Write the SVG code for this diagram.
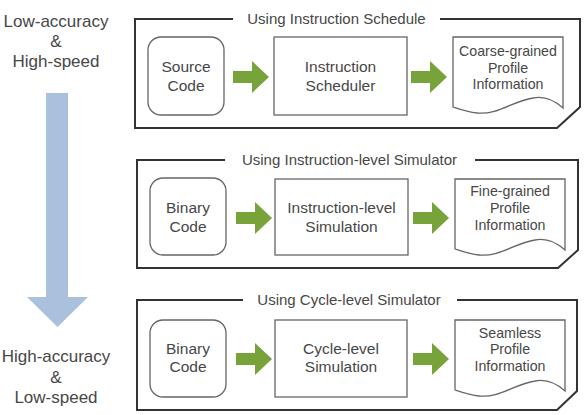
<svg xmlns="http://www.w3.org/2000/svg" width="587" height="415" viewBox="0 0 587 415">
<style>
text{font-family:"Liberation Sans",Arial,sans-serif;fill:#474747;text-anchor:middle}
.lbl{font-size:17px}
.ttl{font-size:15px}
.nt{font-size:15.5px}
.dt{font-size:14.2px}
.frame{fill:none;stroke:#333;stroke-width:2}
.node{fill:#fff;stroke:#666;stroke-width:1.3}
.garrow{fill:#77a33a}
</style>
<defs>
<path id="doc" d="M0,0 H110 V71 C100,62 90,59 80,61 C60,64 45,78 24,76 C14,75 6,72 0,70 Z"/>
<path id="ga" d="M0,10 H19 V0 L36,16 L19,32 V22 H0 Z"/>
</defs>
<rect width="587" height="415" fill="#fff"/>
<g id="speed-axis">
<text class="lbl" x="56" y="27">Low-accuracy</text>
<text class="lbl" x="56" y="47">&amp;</text>
<text class="lbl" x="56" y="67">High-speed</text>
<path d="M46,93 H68 V297 H88 L57.5,327 L27,297 H46 Z" fill="#a9c1dc"/>
<text class="lbl" x="56" y="362">High-accuracy</text>
<text class="lbl" x="56" y="383">&amp;</text>
<text class="lbl" x="56" y="403">Low-speed</text>
</g>
<g id="panel1">
<path class="frame" d="M440,19 H580 V107 L557,128 H135 V19 H233"/>
<text class="ttl" x="336.5" y="24">Using Instruction Schedule</text>
</g>
<g id="panel2">
<path class="frame" d="M475,160 H578 V250 L558,268 H137 V160 H225"/>
<text class="ttl" x="349.5" y="165">Using Instruction-level Simulator</text>
</g>
<g id="panel3">
<path class="frame" d="M457,300 H577 V391 L557,410 H137 V300 H243"/>
<text class="ttl" x="349" y="305">Using Cycle-level Simulator</text>
</g>
<g id="source-code">
<rect class="node" x="148" y="37" width="76" height="78" rx="13"/>
<text class="nt" x="186" y="72">Source</text>
<text class="nt" x="186" y="91">Code</text>
</g>
<g id="instruction-scheduler">
<rect class="node" x="274" y="37" width="133" height="78"/>
<text class="nt" x="340.5" y="72">Instruction</text>
<text class="nt" x="340.5" y="91">Scheduler</text>
</g>
<g id="coarse-profile">
<use href="#doc" x="453" y="37" class="node"/>
<text class="dt" x="508" y="56">Coarse-grained</text>
<text class="dt" x="508" y="72.5">Profile</text>
<text class="dt" x="508" y="89">Information</text>
</g>
<g id="binary-code-1">
<rect class="node" x="150" y="178" width="76" height="77" rx="13"/>
<text class="nt" x="188" y="213">Binary</text>
<text class="nt" x="188" y="232">Code</text>
</g>
<g id="instruction-level-sim">
<rect class="node" x="275" y="179" width="133" height="76"/>
<text class="nt" x="341.5" y="213">Instruction-level</text>
<text class="nt" x="341.5" y="232">Simulation</text>
</g>
<g id="fine-profile">
<use href="#doc" x="455" y="179" class="node"/>
<text class="dt" x="510" y="196">Fine-grained</text>
<text class="dt" x="510" y="213">Profile</text>
<text class="dt" x="510" y="230">Information</text>
</g>
<g id="binary-code-2">
<rect class="node" x="150" y="320" width="76" height="77" rx="13"/>
<text class="nt" x="188" y="354">Binary</text>
<text class="nt" x="188" y="372">Code</text>
</g>
<g id="cycle-level-sim">
<rect class="node" x="275" y="320" width="132" height="77"/>
<text class="nt" x="341" y="354">Cycle-level</text>
<text class="nt" x="341" y="372">Simulation</text>
</g>
<g id="seamless-profile">
<use href="#doc" x="455" y="320" class="node"/>
<text class="dt" x="510" y="338">Seamless</text>
<text class="dt" x="510" y="354">Profile</text>
<text class="dt" x="510" y="371">Information</text>
</g>
<g id="connectors">
<use href="#ga" x="233" y="61" class="garrow"/>
<use href="#ga" x="411" y="61" class="garrow"/>
<use href="#ga" x="236" y="202" class="garrow"/>
<use href="#ga" x="413" y="202" class="garrow"/>
<use href="#ga" x="236" y="343" class="garrow"/>
<use href="#ga" x="413" y="343" class="garrow"/>
</g>
</svg>
